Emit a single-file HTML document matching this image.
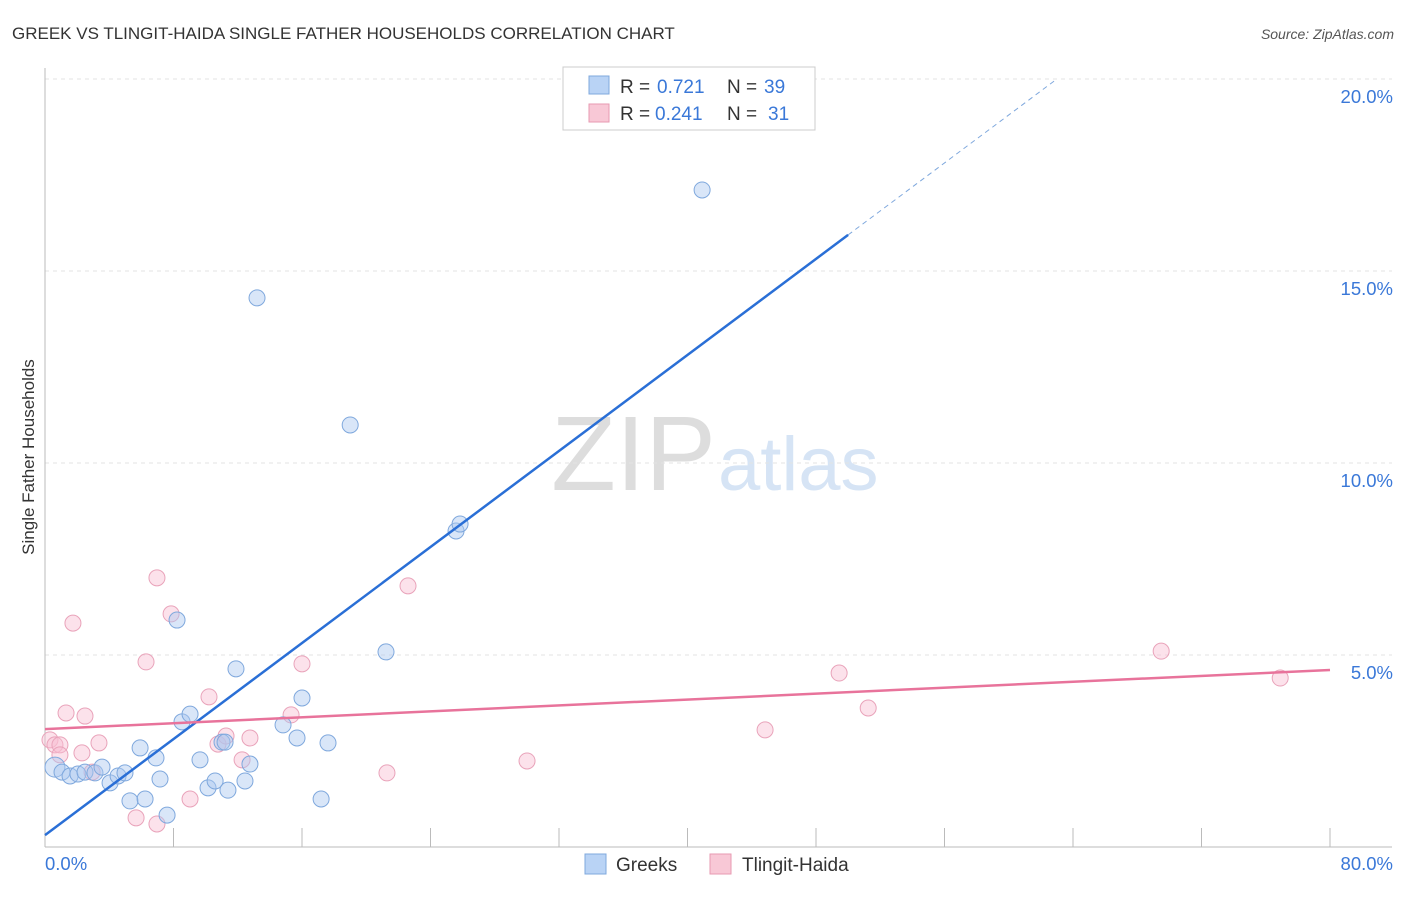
<!DOCTYPE html>
<html><head><meta charset="utf-8"><style>
body{margin:0;background:#fff;font-family:"Liberation Sans",sans-serif}
svg text{font-family:"Liberation Sans",sans-serif}
</style></head><body>
<svg id="chart" width="1406" height="892">
<text x="12" y="39" font-size="17" fill="#333">GREEK VS TLINGIT-HAIDA SINGLE FATHER HOUSEHOLDS CORRELATION CHART</text>
<text x="1394" y="39" font-size="14" fill="#555" text-anchor="end" font-style="italic">Source: ZipAtlas.com</text>
<text x="0" y="0" transform="translate(34,457) rotate(-90)" font-size="17" fill="#333" text-anchor="middle">Single Father Households</text>
<text x="716" y="490" font-size="106" fill="#ddd" text-anchor="end" font-family="Liberation Serif">ZIP</text>
<text x="718" y="490" font-size="76" fill="#d6e4f5">atlas</text>
<g id="grid"></g><g id="axes"></g><g id="pts"></g><g id="lines"></g>
<g>
<rect x="563" y="67" width="252" height="63" fill="#fff" stroke="#ccc"/>
<rect x="589" y="76" width="20" height="18" fill="#b9d3f5" stroke="#7fa8dd"/>
<text x="620" y="93" font-size="19" fill="#333">R = </text><text x="657" y="93" font-size="19" fill="#3a78d8">0.721</text>
<text x="727" y="93" font-size="19" fill="#333">N = </text><text x="764" y="93" font-size="19" fill="#3a78d8">39</text>
<rect x="589" y="104" width="20" height="18" fill="#f8c8d6" stroke="#e79ab2"/>
<text x="620" y="120" font-size="19" fill="#333">R = </text><text x="655" y="120" font-size="19" fill="#3a78d8">0.241</text>
<text x="727" y="120" font-size="19" fill="#333">N = </text><text x="768" y="120" font-size="19" fill="#3a78d8">31</text>
</g>
<g>
<rect x="585" y="854" width="21" height="20" fill="#b9d3f5" stroke="#7fa8dd"/>
<text x="616" y="871" font-size="19" fill="#333">Greeks</text>
<rect x="710" y="854" width="21" height="20" fill="#f8c8d6" stroke="#e79ab2"/>
<text x="742" y="871" font-size="19" fill="#333">Tlingit-Haida</text>
</g>
</svg>
<script>
const xTicks=[0,80];
const yTicks=[5,10,15,20];
const greekX=[0.62,1.06,1.56,2.05,2.49,3.11,3.55,4.05,4.55,4.98,5.92,5.29,6.23,6.91,7.16,7.60,8.22,8.53,9.03,9.65,10.15,10.59,11.02,11.39,11.89,12.45,12.76,13.20,14.82,15.69,16.00,17.19,17.62,19.00,21.23,25.59,25.84,40.91,11.21];
const greekY=[2.08,1.95,1.85,1.90,1.95,1.93,2.08,1.67,1.85,1.93,2.58,1.20,1.25,2.32,1.77,0.83,5.91,3.26,3.46,2.27,1.54,1.72,2.73,1.48,4.64,1.72,2.16,14.30,3.18,2.84,3.88,1.25,2.71,10.99,5.08,8.23,8.41,17.11,2.73];
const tlingitX=[0.31,0.62,0.93,1.31,1.74,2.30,2.49,2.93,3.36,5.67,6.29,6.97,6.97,7.85,9.03,10.21,10.77,11.27,12.27,12.76,15.32,16.00,21.29,22.60,30.01,44.83,49.44,51.25,69.49,76.90,0.93];
const tlingitY=[2.79,2.66,2.66,3.49,5.83,2.45,3.41,1.95,2.71,0.76,4.82,7.01,0.60,6.07,1.25,3.91,2.68,2.89,2.27,2.84,3.44,4.77,1.93,6.80,2.24,3.05,4.53,3.62,5.10,4.40,2.40];
const greekLine=[0.31,15.94,20];const greekLineX=[0,50,63];
const tlingitLine=[3.07,4.61];const tlingitLineX=[0,80];
const X=v=>45+v*16.0625, Y=v=>847-v*38.4;
const NS="http://www.w3.org/2000/svg";
function mk(p,t,a){const e=document.createElementNS(NS,t);for(const k in a)e.setAttribute(k,a[k]);document.getElementById(p).appendChild(e);return e;}
for(const t of yTicks){
 const l=mk('grid','line',{x1:45,x2:1392,y1:Y(t),y2:Y(t),stroke:'#e3e3e3','stroke-dasharray':'4,4'});
 
 
 const tx=mk('axes','text',{x:1393,y:Y(t)+24,'font-size':18.5,fill:'#3a78d8','text-anchor':'end'});tx.textContent=t.toFixed(1)+'%';
 
 
}
mk('axes','line',{x1:45,x2:45,y1:68,y2:847,stroke:'#bbb'});
mk('axes','line',{x1:45,x2:1392,y1:847,y2:847,stroke:'#bbb'});
for(let i=0;i<=10;i++){const t=mk('axes','line',{x1:X(i*8),x2:X(i*8),y1:828,y2:847,stroke:'#bbb'});
 
 }
xTicks.forEach((t,i)=>{const tx=mk('axes','text',{x:i?1393:45,y:870,'font-size':18.5,fill:'#3a78d8','text-anchor':i?'end':'start'});tx.textContent=t.toFixed(1)+'%';
 
 });
tlingitX.forEach((v,i)=>{const c=mk('pts','circle',{cx:X(v),cy:Y(tlingitY[i]),r:8,fill:'rgba(248,190,210,0.45)',stroke:'#e9a3ba'});
 
 });
greekX.forEach((v,i)=>{const c=mk('pts','circle',{cx:X(v),cy:Y(greekY[i]),r:i==0?10:8,fill:'rgba(170,200,240,0.45)',stroke:'#7fa8dd'});
 
 });
const g1=mk('lines','line',{x1:X(greekLineX[0]),y1:Y(greekLine[0]),x2:X(greekLineX[1]),y2:Y(greekLine[1]),stroke:'#2a6fd6','stroke-width':2.5});


const g2=mk('lines','line',{x1:X(greekLineX[1]),y1:Y(greekLine[1]),x2:X(greekLineX[2]),y2:Y(greekLine[2]),stroke:'#7fa8dd','stroke-width':1,'stroke-dasharray':'5,4'});


const t1=mk('lines','line',{x1:X(tlingitLineX[0]),y1:Y(tlingitLine[0]),x2:X(tlingitLineX[1]),y2:Y(tlingitLine[1]),stroke:'#e8739b','stroke-width':2.5});


</script>
</body></html>
